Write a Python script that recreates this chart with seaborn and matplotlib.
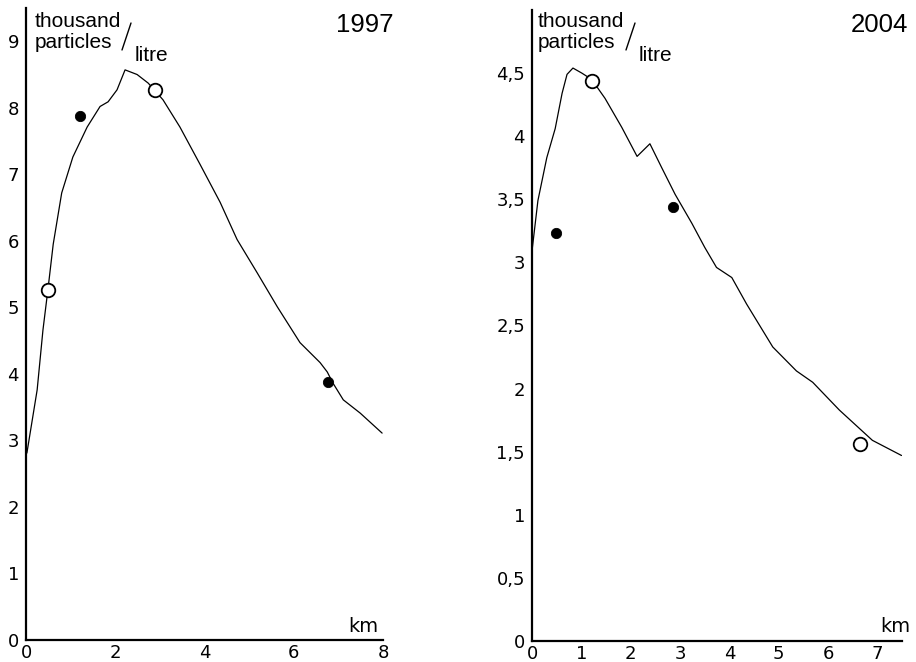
import matplotlib

matplotlib.use("Agg")
import matplotlib.pyplot as plt
import numpy as np
import pandas as pd
import seaborn as sns
from matplotlib.lines import Line2D

# 1997 profile (km, thousand particles / litre)
km_1997 = [0.02, 0.25, 0.38, 0.49, 0.61, 0.8, 1.05, 1.37, 1.66, 1.84, 2.04, 2.22,
           2.49, 2.74, 3.07, 3.45, 3.9, 4.35, 4.73, 5.18, 5.63, 6.14, 6.59, 6.75,
           6.88, 7.11, 7.49, 7.98]
conc_1997 = [2.81, 3.76, 4.66, 5.26, 5.95, 6.72, 7.26, 7.71, 8.02, 8.09, 8.27, 8.57,
             8.5, 8.37, 8.12, 7.71, 7.15, 6.58, 6.02, 5.52, 5.01, 4.47, 4.17, 4.03,
             3.86, 3.61, 3.41, 3.11]
open_1997_x = [0.49, 2.89]
open_1997_y = [5.26, 8.26]
fill_1997_x = [1.21, 6.77]
fill_1997_y = [7.88, 3.88]

# 2004 profile
km_2004 = [0.0, 0.12, 0.3, 0.47, 0.61, 0.71, 0.83, 1.01, 1.21, 1.48, 1.82, 2.13,
           2.39, 2.63, 2.9, 3.24, 3.5, 3.74, 4.05, 4.35, 4.88, 5.36, 5.69, 6.23,
           6.9, 7.49]
conc_2004 = [3.09, 3.49, 3.83, 4.06, 4.34, 4.49, 4.54, 4.50, 4.45, 4.30, 4.07, 3.84,
             3.94, 3.75, 3.54, 3.31, 3.12, 2.96, 2.88, 2.67, 2.33, 2.14, 2.05, 1.83,
             1.59, 1.47]
open_2004_x = [1.21, 6.64]
open_2004_y = [4.44, 1.56]
fill_2004_x = [0.49, 2.86]
fill_2004_y = [3.23, 3.44]

ticks_1997_x = [0, 2, 4, 6, 8]
ticks_1997_y = list(range(10))
ticks_2004_x = list(range(8))
ticks_2004_y = [0, 0.5, 1, 1.5, 2, 2.5, 3, 3.5, 4, 4.5]

sns.set_style("white")
plt.rcParams["font.family"] = ["DejaVu Sans"]
plt.rcParams["text.color"] = "black"

W, H = 916, 662
fig = plt.figure(figsize=(W / 100, H / 100), dpi=100)


def px_axes(x0, x1, y_top, y_bot):
    return fig.add_axes([x0 / W, 1 - y_bot / H, (x1 - x0) / W, (y_bot - y_top) / H])


def draw_panel(ax, xs, ys, ox, oy, fx, fy, xlim, ylim, xt, yt, ylabels):
    sns.lineplot(x=xs, y=ys, ax=ax, sort=False, estimator=None, color="black", lw=0.9)
    sns.scatterplot(x=fx, y=fy, ax=ax, color="black", s=55, edgecolor="black", zorder=3)
    sns.scatterplot(x=ox, y=oy, ax=ax, facecolor="white", edgecolor="black", s=95,
                    linewidth=1.3, zorder=3)
    ax.set_xlim(*xlim)
    ax.set_ylim(*ylim)
    ax.set_xticks(xt)
    ax.set_yticks(yt)
    ax.set_yticklabels(ylabels)
    sns.despine(ax=ax)
    for s in ("left", "bottom"):
        ax.spines[s].set_linewidth(1.6)
        ax.spines[s].set_color("black")
    ax.tick_params(direction="in", length=6, width=1.4, labelsize=13, colors="black")
    ax.tick_params(axis="y", pad=5)
    ax.tick_params(axis="x", pad=3)
    ax.set_xlabel("")
    ax.set_ylabel("")
    ax.patch.set_alpha(0)


ax1 = px_axes(26, 383, 8, 640)
draw_panel(ax1, km_1997, conc_1997, open_1997_x, open_1997_y, fill_1997_x, fill_1997_y,
           (0, 8), (0, 9.5), ticks_1997_x, ticks_1997_y, [str(v) for v in ticks_1997_y])

ax2 = px_axes(532, 902, 10, 641)
draw_panel(ax2, km_2004, conc_2004, open_2004_x, open_2004_y, fill_2004_x, fill_2004_y,
           (0, 7.5), (0, 5.0), ticks_2004_x, ticks_2004_y,
           [f"{v:g}".replace(".", ",") for v in ticks_2004_y])

arial = ["Liberation Sans", "DejaVu Sans"]


def ftext(x, y, s, **kw):
    fig.text(x / W, 1 - y / H, s, family=arial, va="baseline", color="black", **kw)


def slash(x0, y0, x1, y1):
    fig.add_artist(Line2D([x0 / W, x1 / W], [1 - y0 / H, 1 - y1 / H],
                          color="black", lw=1.0, transform=fig.transFigure))


# unit labels
for x_off, sx in ((35, 122), (538, 626)):
    ftext(x_off, 27, "thousand", fontsize=15)
    ftext(x_off, 48, "particles", fontsize=15)
    slash(sx + 9, 23, sx, 50)
    ftext(sx + 13, 61, "litre", fontsize=15)

ftext(393, 32, "1997", fontsize=18.5, ha="right")
ftext(908, 32, "2004", fontsize=18.5, ha="right")

fig.text(378 / W, 1 - 632 / H, "km", fontsize=14, ha="right", va="baseline", color="black")
fig.text(910 / W, 1 - 632 / H, "km", fontsize=14, ha="right", va="baseline", color="black")

fig.savefig("out.png", dpi=100)
